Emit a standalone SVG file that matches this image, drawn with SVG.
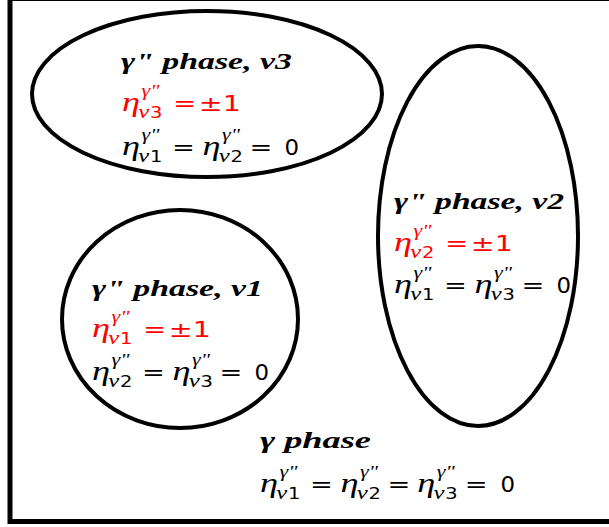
<svg xmlns="http://www.w3.org/2000/svg" width="609" height="527" viewBox="0 0 609 527">
<style>
.e{fill:none;stroke:#000;stroke-width:4}
.t{font-family:"Liberation Serif","DejaVu Serif",serif;font-weight:bold;font-style:italic;font-size:24px;fill:#000}
.m{font-family:"Liberation Serif","DejaVu Serif",serif;font-style:italic;font-size:28px}
.s{font-family:"Liberation Serif","DejaVu Serif",serif;font-style:italic;font-size:17px}
.v{font-family:"Liberation Serif","DejaVu Serif",serif;font-style:italic;font-size:19px}
.d{font-family:"DejaVu Sans","Liberation Sans",sans-serif;font-size:15px}
.n{font-family:"DejaVu Sans","Liberation Sans",sans-serif;font-size:21px}
.z{font-family:"DejaVu Sans","Liberation Sans",sans-serif;font-size:22px}
.k{fill:#000}
.r{fill:#ff0000}
</style>
<rect x="0" y="0" width="609" height="527" fill="#fff"/>
<rect x="10" y="-1.5" width="610" height="523" fill="none" stroke="#000" stroke-width="5"/>
<defs>
<g id="eta">
<text class="m" x="0" y="0">η</text>
<text class="s" x="15" y="-15">γ"</text>
<text class="v" x="12.5" y="7">v</text>
</g>
</defs>
<g id="node-v3">
<ellipse class="e" cx="207" cy="94" rx="175" ry="83"/>
<text class="t" x="121" y="69" textLength="171" lengthAdjust="spacingAndGlyphs">γ" phase, v3</text>
<g class="r" transform="translate(122 111) scale(1.3 1)">
<use href="#eta"/><text class="d" x="21.5" y="7">3</text>
<text class="n" x="39.5" y="0">=</text>
<text class="z" x="59" y="0">±1</text>
</g>
<g class="k" transform="translate(122 155) scale(1.3 1)">
<use href="#eta"/><text class="d" x="21.5" y="7">1</text>
<text class="n" x="38.5" y="0">=</text>
<use href="#eta" x="62"/><text class="d" x="83.5" y="7">2</text>
<text class="n" x="98" y="0">=</text>
<text class="z" x="125" y="0" transform="translate(125 0) scale(0.8 1) translate(-125 0)">0</text>
</g>
</g>
<g id="node-v2">
<ellipse class="e" cx="478" cy="236" rx="100" ry="190"/>
<text class="t" x="394" y="209" textLength="170" lengthAdjust="spacingAndGlyphs">γ" phase, v2</text>
<g class="r" transform="translate(394 251) scale(1.3 1)">
<use href="#eta"/><text class="d" x="21.5" y="7">2</text>
<text class="n" x="39.5" y="0">=</text>
<text class="z" x="59" y="0">±1</text>
</g>
<g class="k" transform="translate(394 293) scale(1.3 1)">
<use href="#eta"/><text class="d" x="21.5" y="7">1</text>
<text class="n" x="38.5" y="0">=</text>
<use href="#eta" x="62"/><text class="d" x="83.5" y="7">3</text>
<text class="n" x="98" y="0">=</text>
<text class="z" x="125" y="0" transform="translate(125 0) scale(0.8 1) translate(-125 0)">0</text>
</g>
</g>
<g id="node-v1">
<ellipse class="e" cx="180" cy="319" rx="118" ry="109"/>
<text class="t" x="92" y="296" textLength="171" lengthAdjust="spacingAndGlyphs">γ" phase, v1</text>
<g class="r" transform="translate(92 337) scale(1.3 1)">
<use href="#eta"/><text class="d" x="21.5" y="7">1</text>
<text class="n" x="39.5" y="0">=</text>
<text class="z" x="59" y="0">±1</text>
</g>
<g class="k" transform="translate(92 380) scale(1.3 1)">
<use href="#eta"/><text class="d" x="21.5" y="7">2</text>
<text class="n" x="38.5" y="0">=</text>
<use href="#eta" x="62"/><text class="d" x="83.5" y="7">3</text>
<text class="n" x="98" y="0">=</text>
<text class="z" x="125" y="0" transform="translate(125 0) scale(0.8 1) translate(-125 0)">0</text>
</g>
</g>
<g id="node-gamma">
<text class="t" x="260" y="448" textLength="111" lengthAdjust="spacingAndGlyphs">γ phase</text>
<g class="k" transform="translate(260 492) scale(1.3 1)">
<use href="#eta"/><text class="d" x="21.5" y="7">1</text>
<text class="n" x="38.5" y="0">=</text>
<use href="#eta" x="62"/><text class="d" x="83.5" y="7">2</text>
<text class="n" x="98" y="0">=</text>
<use href="#eta" x="121"/><text class="d" x="142.5" y="7">3</text>
<text class="n" x="157.5" y="0">=</text>
<text class="z" x="185" y="0" transform="translate(185 0) scale(0.8 1) translate(-185 0)">0</text>
</g>
</g>
<g id="connectors"></g>
</svg>
